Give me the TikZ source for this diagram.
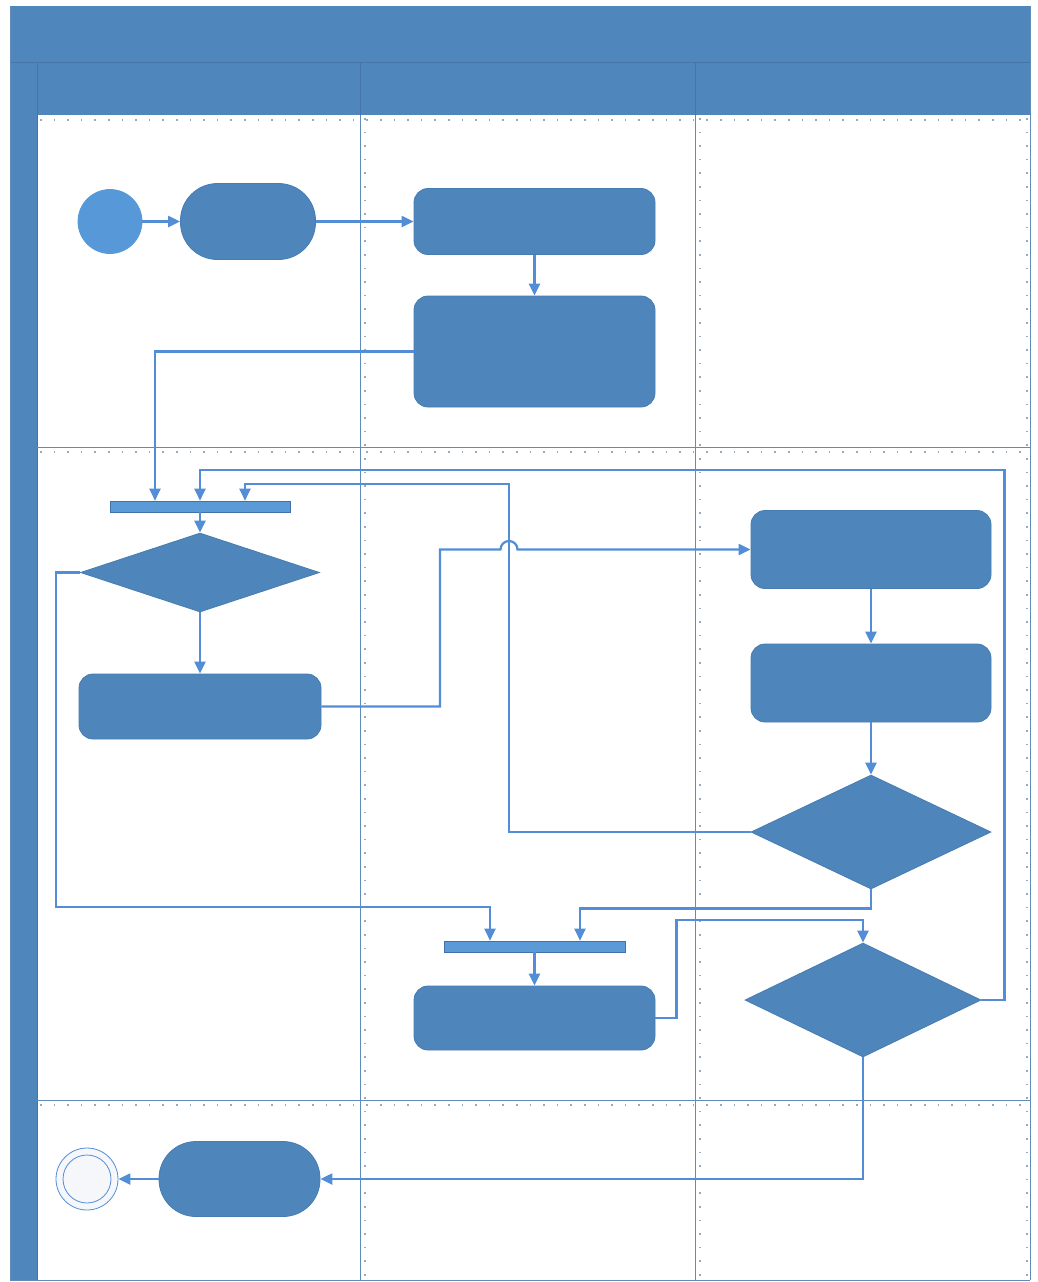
\documentclass[tikz,border=0pt]{standalone}
\usetikzlibrary{shapes.geometric,arrows.meta,calc}

\definecolor{lanefill}{RGB}{79,135,189}
\definecolor{laneline}{RGB}{70,118,168}
\definecolor{gridline}{RGB}{96,140,188}
\definecolor{gridtick}{RGB}{150,170,190}
\definecolor{actfill}{RGB}{78,134,187}
\definecolor{actedge}{RGB}{70,124,178}
\definecolor{startfill}{RGB}{86,152,216}
\definecolor{barfill}{RGB}{90,154,214}
\definecolor{flow}{RGB}{83,141,213}
\definecolor{endfill}{RGB}{246,247,251}

\tikzset{
  act/.style={draw=actedge, fill=actfill, line width=0.4pt, inner sep=0pt},
  actbox/.style={act, rectangle, rounded corners=7pt},
  stadium/.style={act, rectangle, rounded corners=18.5pt},
  decision/.style={act, diamond, aspect=2},
  syncbar/.style={draw=flow!80!black, fill=barfill, line width=0.3pt, rectangle, inner sep=0pt},
  flowline/.style={draw=flow, line width=1.1pt},
  arr/.style={flowline, -{Triangle[width=5.5pt,length=6pt]}},
}

\begin{document}
\begin{tikzpicture}[x=0.5pt, y=-0.5pt]
  \useasboundingbox (0,0) rectangle (1038,1282);

  % pool: title band, lane headers and the vertical side band
  \fill[lanefill] (10,6) rectangle (1030,115);
  \fill[lanefill] (10,62) rectangle (37,1280);
  \draw[laneline, line width=0.5pt] (10,62) -- (1030,62);
  \draw[laneline, line width=0.5pt] (37,62) -- (37,1280);
  \draw[laneline, line width=0.5pt] (360,62) -- (360,115);
  \draw[laneline, line width=0.5pt] (695,62) -- (695,115);

  % lane grid in the body
  \draw[gridline, line width=0.4pt] (360,115) -- (360,1280);
  \draw[gridline, line width=0.4pt] (695,115) -- (695,1280);
  \draw[gridline, line width=0.4pt] (37,447) -- (1030,447);
  \draw[gridline, line width=0.4pt] (37,1100) -- (1030,1100);
  \draw[gridline, line width=0.4pt] (1030,6) -- (1030,1280);
  \draw[gridline, line width=0.4pt] (10,1280) -- (1030,1280);
  \draw[gridline, line width=0.4pt] (10,6) -- (10,1280);
  \foreach \yy in {120,452,1105} {
    \draw[gridtick, line width=0.6pt, dash pattern=on 0.8pt off 6pt] (40,\yy) -- (1028,\yy);
  }
  \foreach \xx in {365,700,1027} {
    \draw[gridtick, line width=0.6pt, dash pattern=on 0.8pt off 6pt] (\xx,118) -- (\xx,1278);
  }

  % top row
  \node[circle, fill=startfill, draw=startfill, minimum size=32pt, inner sep=0pt] (start) at (110,221.5) {};
  \node[stadium, minimum width=67.5pt, minimum height=38pt] (act1) at (248,221.5) {};
  \node[actbox, minimum width=120.5pt, minimum height=33pt] (actA) at (534.5,221.5) {};
  \node[actbox, minimum width=120.5pt, minimum height=55.5pt] (actB) at (534.5,351.5) {};

  % middle row
  \node[syncbar, minimum width=90pt, minimum height=5.5pt] (bar1) at (200,506.5) {};
  \node[decision, minimum width=119.5pt, minimum height=39.5pt] (dec1) at (200,572.5) {};
  \node[actbox, minimum width=121pt, minimum height=32.5pt] (actC) at (200,706.5) {};
  \node[actbox, minimum width=120pt, minimum height=39pt] (actD) at (871,549.5) {};
  \node[actbox, minimum width=120pt, minimum height=39pt] (actE) at (871,683) {};
  \node[decision, minimum width=120pt, minimum height=57pt] (dec2) at (871,832) {};
  \node[syncbar, minimum width=90.5pt, minimum height=5.5pt] (bar2) at (534.5,946.5) {};
  \node[actbox, minimum width=120.5pt, minimum height=32pt] (actF) at (534.5,1018) {};
  \node[decision, minimum width=118pt, minimum height=57pt] (dec3) at (863,1000) {};

  % bottom row
  \node[stadium, minimum width=80.5pt, minimum height=37.5pt] (act2) at (239.5,1179) {};
  \node[circle, draw=flow, fill=endfill, line width=0.4pt, minimum size=31pt, inner sep=0pt] (stop) at (87,1179) {};
  \draw[flow, line width=0.4pt] (stop.center) circle[radius=24];

  % connectors
  \draw[arr] (start.east) -- (act1.west);
  \draw[arr] (act1.east) -- (actA.west);
  \draw[arr] (actA.south) -- (actB.north);
  \draw[arr] (actB.west) -| ($(bar1.north)+(-45,0)$);
  \draw[arr] (bar1.south) -- (dec1.north);
  \draw[arr] (dec1.south) -- (actC.north);
  \draw[arr] (actC.east) -| (440,549.5) -- (500.5,549.5)
        arc[start angle=180, end angle=360, radius=8.5] -- (actD.west);
  \draw[arr] (actD.south) -- (actE.north);
  \draw[arr] (actE.south) -- (dec2.north);
  \draw[arr] (dec2.west) -| (509,484) -| ($(bar1.north)+(45,0)$);
  \draw[arr] (dec2.south) -- ++(0,19) -| ($(bar2.north)+(45.5,0)$);
  \draw[arr] (dec1.west) -| (56,907) -| ($(bar2.north)+(-44.5,0)$);
  \draw[arr] (bar2.south) -- (actF.north);
  \draw[arr] (actF.east) -- ++(21,0) |- ($(dec3.north)+(0,-23)$) -- (dec3.north);
  \draw[arr] (dec3.east) -- ++(23,0) |- ($(bar1.north)+(0,-31)$) -- (bar1.north);
  \draw[arr] (dec3.south) |- (act2.east);
  \draw[arr] (act2.west) -- (stop.east);
\end{tikzpicture}
\end{document}
